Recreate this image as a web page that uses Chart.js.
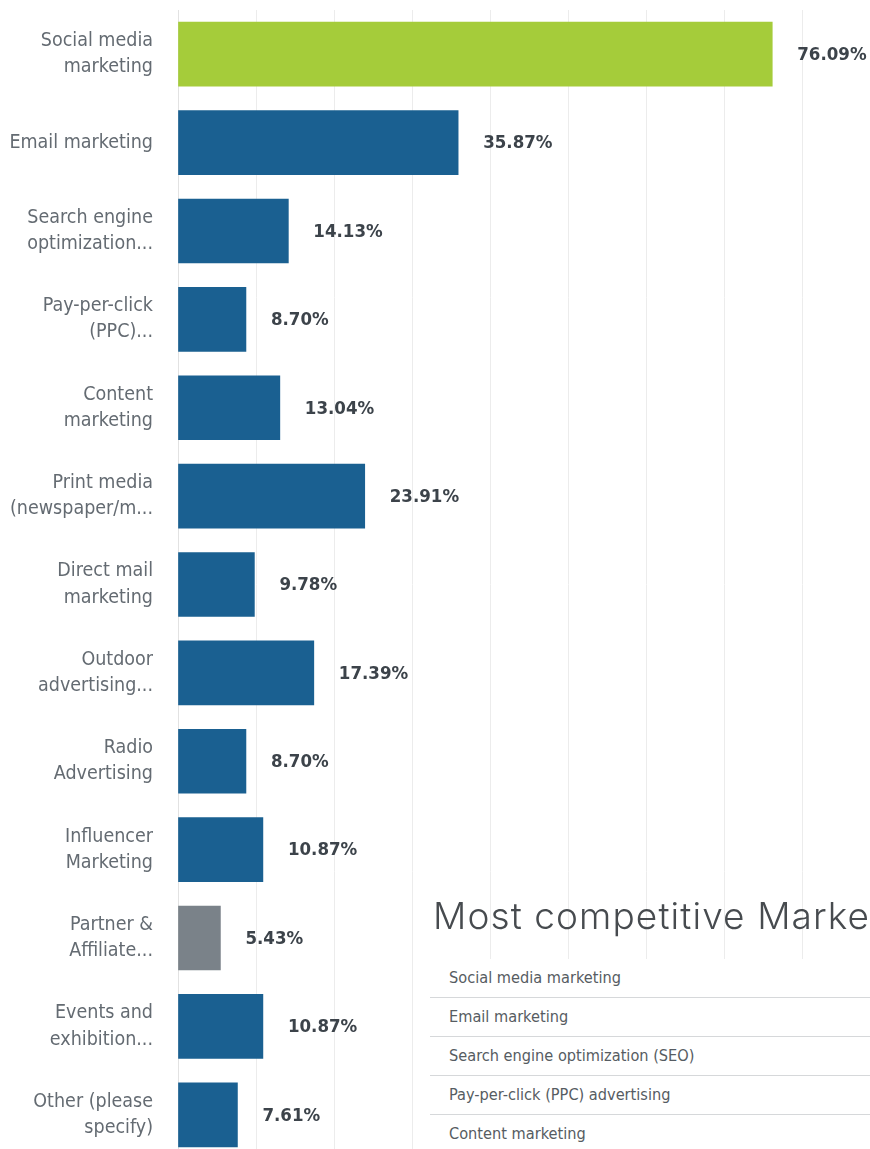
<!DOCTYPE html>
<html>
<head>
<meta charset="utf-8">
<script src="https://cdn.jsdelivr.net/npm/chart.js@4"></script>
<style>
  html, body { margin: 0; padding: 0; background: #fff; overflow: hidden; }
  body { width: 870px; height: 1149px; position: relative; }
  #wrap { position: absolute; left: 0; top: 0; width: 960px; height: 1160px; }
  #title {
    position: absolute; left: 433px; top: 893px; white-space: nowrap;
    font-family: Inter, "Noto Sans", sans-serif; font-weight: 300;
    font-size: 37px; letter-spacing: 1.1px; color: #474b4f;
  }
  #list {
    position: absolute; left: 430px; top: 959px; width: 460px; height: 200px;
    background: #fff;
  }
  #list div {
    height: 38px; line-height: 38px; border-bottom: 1.5px solid #d6d8da;
    padding-left: 19px; color: #565c62;
    font-family: "DejaVu Sans Condensed", "DejaVu Sans", sans-serif;
    font-stretch: condensed; font-size: 16.2px;
  }
</style>
</head>
<body>
<div id="wrap"><canvas id="bar-chart" width="960" height="1160"></canvas></div>
<div id="title">Most competitive Marketing</div>
<div id="list"></div>
<script>
const labels = [
    ['Social media', 'marketing'],
    'Email marketing',
    ['Search engine', 'optimization...'],
    ['Pay-per-click', '(PPC)...'],
    ['Content', 'marketing'],
    ['Print media', '(newspaper/m...'],
    ['Direct mail', 'marketing'],
    ['Outdoor', 'advertising...'],
    ['Radio', 'Advertising'],
    ['Influencer', 'Marketing'],
    ['Partner &', 'Affiliate...'],
    ['Events and', 'exhibition...'],
    ['Other (please', 'specify)'],
  ];
  let percentages = [76.09, 35.87, 14.13, 8.70, 13.04, 23.91, 9.78, 17.39, 8.70, 10.87, 5.43, 10.87, 7.61];

  let listItems = [
    'Social media marketing',
    'Email marketing',
    'Search engine optimization (SEO)',
    'Pay-per-click (PPC) advertising',
    'Content marketing',
  ];

  // first bar highlighted green, partner bar grey
  let barColors = labels.map((l, i) => i === 0 ? '#a5cc3a' : (i === 10 ? '#7a8289' : '#1a6091'));

  const labelFont = "'DejaVu Sans Condensed', 'DejaVu Sans', sans-serif";

  // percentage text to the right of each bar
  const valueLabels = {
    id: 'valueLabels',
    afterDatasetsDraw(chart) {
      const ctx = chart.ctx;
      const meta = chart.getDatasetMeta(0);
      ctx.save();
      ctx.font = "bold 18.5px " + labelFont;
      ctx.fillStyle = '#3c434a';
      ctx.textAlign = 'left';
      ctx.textBaseline = 'middle';
      meta.data.forEach((bar, i) => {
        ctx.fillText(percentages[i].toFixed(2) + '%', bar.x + 25, bar.y + 1);
      });
      ctx.restore();
    }
  };

  const data = {
    labels: labels,
    datasets: [{
      data: percentages,
      backgroundColor: barColors,
      barThickness: 64,
    }]
  };

  const config = {
    type: 'bar',
    data: data,
    plugins: [valueLabels],
    options: {
      indexAxis: 'y',
      responsive: false,
      animation: false,
      devicePixelRatio: 1,
      layout: { padding: { top: 10, bottom: 1, left: 0, right: 1 } },
      plugins: { legend: { display: false }, tooltip: { enabled: false } },
      scales: {
        x: {
          min: 0, max: 100,
          ticks: { display: false, stepSize: 10 },
          grid: { color: '#ececec', drawTicks: false },
          border: { display: false },
          afterFit(scale) { scale.height = 0; scale.paddingLeft = 0; scale.paddingRight = 0; }
        },
        y: {
          // fixed axis width, and no extra room for the first/last label
          afterFit(scale) { scale.width = 178; scale.paddingTop = 0; scale.paddingBottom = 0; },
          ticks: {
            padding: 25,
            color: '#646b72',
            font: { family: labelFont, size: 19.5, lineHeight: 1.34 }
          },
          grid: { display: false, drawTicks: false },
          border: { color: '#e2e2e2' }
        }
      }
    }
  };

const myChart = new Chart(
    document.getElementById('bar-chart'),
    config
  );

document.getElementById('list').innerHTML = listItems.map(t => '<div>' + t + '</div>').join('');
</script>
</body>
</html>
